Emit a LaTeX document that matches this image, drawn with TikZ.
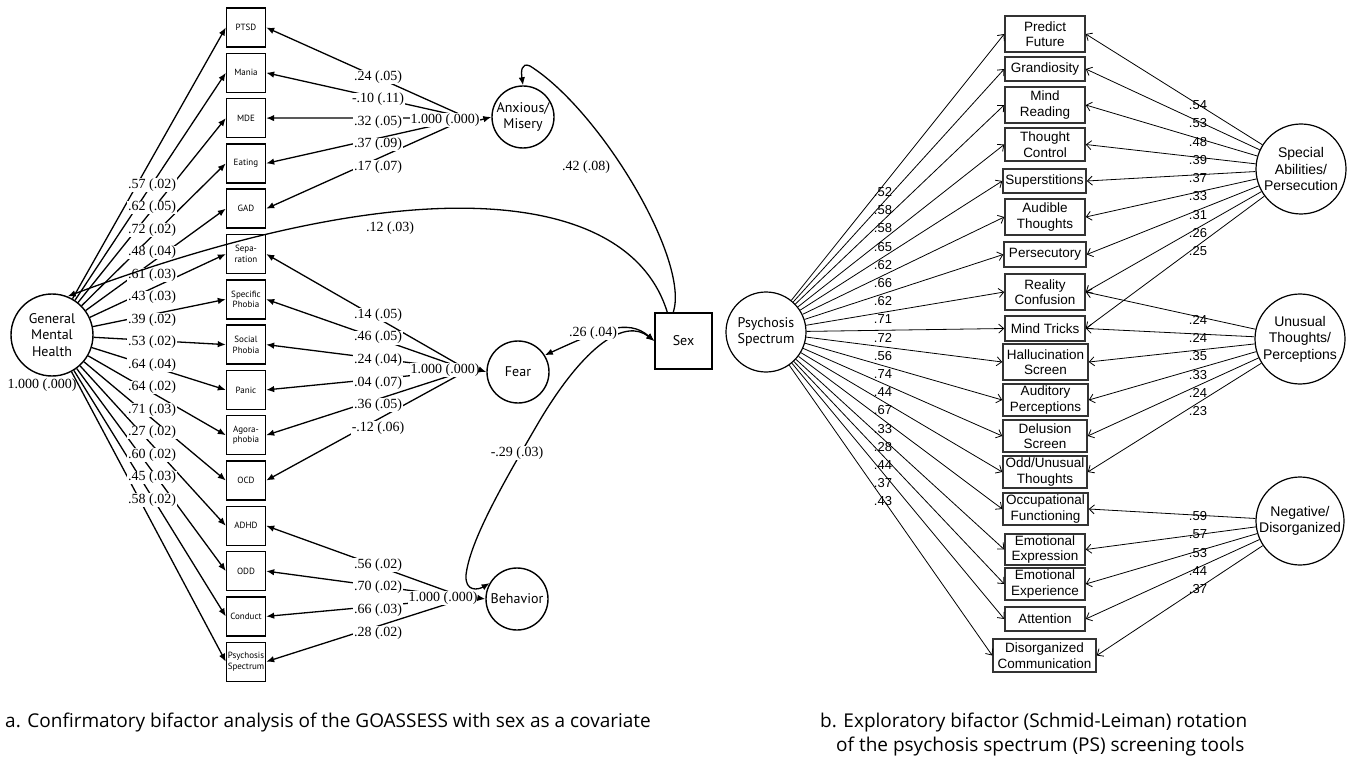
\documentclass[tikz,border=0pt]{standalone}
\usepackage{fontspec}
\setmainfont{Liberation Serif}
\newfontfamily\pts{PT Sans}
\newfontfamily\ars{Liberation Sans}
\newfontfamily\capf{Open Sans}
\usetikzlibrary{arrows.meta}
\tikzset{
 lbox/.style={draw, line width=1.4pt, minimum width=39pt, minimum height=39pt, inner sep=0pt, align=center, font=\pts\fontsize{9}{10.8}\selectfont},
 lfac/.style={draw, circle, line width=1.4pt, inner sep=0pt, align=center, font=\pts\fontsize{14}{16.5}\selectfont},
 lnum/.style={font=\fontsize{14}{16}\selectfont, fill=white, inner sep=0.6pt},
 lnumclear/.style={font=\fontsize{14}{16}\selectfont, inner sep=0.6pt},
 larr/.style={line width=1.3pt, -{Latex[length=8pt,width=6.5pt]}},
 lcurve/.style={line width=1.3pt},
 rbox/.style={draw=black!80, line width=1.5pt, inner sep=0pt, align=center, font=\ars\fontsize{13.5}{15.5}\selectfont},
 rfac/.style={draw, circle, line width=1.2pt, inner sep=0pt, align=center, font=\ars\fontsize{14}{16.5}\selectfont},
 psfac/.style={draw, circle, line width=1.2pt, inner sep=0pt, align=center, font=\pts\fontsize{14}{16.5}\selectfont},
 rnum/.style={font=\ars\fontsize{13}{15}\selectfont, inner sep=0pt},
 rarr/.style={line width=0.8pt, -{Straight Barb[length=5pt,width=9pt]}},
 capstyle/.style={font=\capf\fontsize{19}{24}\selectfont, inner sep=0pt}
}
\begin{document}
\begin{tikzpicture}[x=1pt,y=-1pt]
\useasboundingbox (0,0) rectangle (1355,762);

% ---------------- Panel a ----------------
\node[lbox] (L1) at (246,27.5) {PTSD};
\node[lbox] (L2) at (246,72.8) {Mania};
\node[lbox] (L3) at (246,118.1) {MDE};
\node[lbox] (L4) at (246,163.4) {Eating};
\node[lbox] (L5) at (246,208.7) {GAD};
\node[lbox] (L6) at (246,254.0) {Sepa-\\ration};
\node[lbox] (L7) at (246,299.3) {Specific\\Phobia};
\node[lbox] (L8) at (246,344.6) {Social\\Phobia};
\node[lbox] (L9) at (246,389.9) {Panic};
\node[lbox] (L10) at (246,435.2) {Agora-\\phobia};
\node[lbox] (L11) at (246,480.5) {OCD};
\node[lbox] (L12) at (246,525.8) {ADHD};
\node[lbox] (L13) at (246,571.1) {ODD};
\node[lbox] (L14) at (246,616.4) {Conduct};
\node[lbox] (L15) at (246,661.7) {Psychosis\\Spectrum};

\node[lfac, minimum size=82pt] (gmh) at (52,335) {General\\Mental\\Health};
\node[lnumclear] (gvar) at (42,385) {1.000 (.000)};
\node[lfac, minimum size=62pt] (anx) at (523,117) {Anxious/\\Misery};
\node[lfac, minimum size=62pt] (fear) at (518,372) {Fear};
\node[lfac, minimum size=62pt] (beh) at (517,599) {Behavior};
\node[draw, line width=1.4pt, minimum width=57pt, minimum height=56pt, inner sep=0pt, font=\pts\fontsize{14}{16}\selectfont] (sex) at (683.5,341) {Sex};

\coordinate (ac) at (468,118);
\coordinate (fc) at (468,370);
\coordinate (bc) at (466,598);

% general loadings
\foreach \i in {1,...,15} \draw[larr] (gmh) -- (L\i.west);
\foreach \v [count=\i] in {.57 (.02),.62 (.05),.72 (.02),.48 (.04),.61 (.03),.43 (.03),.39 (.02),.53 (.02),.64 (.04),.64 (.02),.71 (.03),.27 (.02),.60 (.02),.45 (.03),.58 (.02)}
  \node[lnum] (g\i) at (152,{185+22.5*(\i-1)}) {\v};

% specific loadings
\foreach \i in {1,...,5} \draw[larr] (ac) -- (L\i.east);
\foreach \i in {6,...,11} \draw[larr] (fc) -- (L\i.east);
\foreach \i in {12,...,15} \draw[larr] (bc) -- (L\i.east);

\foreach \v [count=\i] in {.24 (.05),-.10 (.11),.32 (.05),.37 (.09),.17 (.07)}
  \node[lnum] (a\i) at (378,{77+22.5*(\i-1)}) {\v};
\foreach \v [count=\i] in {.14 (.05),.46 (.05),.24 (.04),.04 (.07),.36 (.05),-.12 (.06)}
  \node[lnum] (f\i) at (378,{315+22.6*(\i-1)}) {\v};
\foreach \v [count=\i] in {.56 (.02),.70 (.02),.66 (.03),.28 (.02)}
  \node[lnum] (b\i) at (378,{565+22.6*(\i-1)}) {\v};

\node[lnum] (a0) at (445,120) {1.000 (.000)};
\node[lnum] (f0) at (445,370) {1.000 (.000)};
\node[lnum] (b0) at (443,598) {1.000 (.000)};
\draw[larr] (a0.east) -- (anx.west);
\draw[larr] (f0.east) -- (fear.west);
\draw[larr] (b0.east) -- (beh.west);

% sex paths
\draw[larr] (sex.north west) ++(13,0) .. controls (630,190) and (420,165) .. (gmh.68);
\node[lnumclear] (s12) at (390,228) {.12 (.03)};
\draw[larr] (sex.north west) ++(19,0) .. controls (690,260) and (600,110) .. (530,66) .. controls (521,62) and (521,72) .. (anx.north);
\node[lnumclear] (s42) at (586,167) {.42 (.08)};
\draw[lcurve, {Latex[length=8pt,width=6.5pt]}-{Latex[length=8pt,width=6.5pt]}] (fear.32) .. controls (600,330) and (628,318) .. (sex.west);
\draw[lcurve, {Latex[length=8pt,width=6.5pt]}-{Latex[length=8pt,width=6.5pt]}] (beh.150) .. controls (478,590) and (465,592) .. (466,575) .. controls (470,540) and (505,480) .. (540,420) .. controls (585,345) and (625,318) .. (sex.west);
\node[lnum] (s26) at (593,333) {.26 (.04)};
\node[lnum] (s29) at (517,453) {-.29 (.03)};

% ---------------- Panel b ----------------
\node[rbox, minimum width=80pt, minimum height=36pt] (R1) at (1045,34) {Predict\\Future};
\node[rbox, minimum width=80pt, minimum height=24pt] (R2) at (1045,69) {Grandiosity};
\node[rbox, minimum width=80pt, minimum height=36pt] (R3) at (1045,105) {Mind\\Reading};
\node[rbox, minimum width=80pt, minimum height=33pt] (R4) at (1045,144.5) {Thought\\Control};
\node[rbox, minimum width=83pt, minimum height=24pt] (R5) at (1044.5,181) {Superstitions};
\node[rbox, minimum width=80pt, minimum height=36pt] (R6) at (1045,217) {Audible\\Thoughts};
\node[rbox, minimum width=82pt, minimum height=25pt] (R7) at (1045,254.5) {Persecutory};
\node[rbox, minimum width=80pt, minimum height=36pt] (R8) at (1045,292) {Reality\\Confusion};
\node[rbox, minimum width=80pt, minimum height=25pt] (R9) at (1045,328.5) {Mind Tricks};
\node[rbox, minimum width=85pt, minimum height=36pt] (R10) at (1045.5,362) {Hallucination\\Screen};
\node[rbox, minimum width=85pt, minimum height=32pt] (R11) at (1045.5,400) {Auditory\\Perceptions};
\node[rbox, minimum width=84pt, minimum height=32pt] (R12) at (1045,436) {Delusion\\Screen};
\node[rbox, minimum width=84pt, minimum height=32pt] (R13) at (1045,472) {Odd/Unusual\\Thoughts};
\node[rbox, minimum width=85pt, minimum height=32pt] (R14) at (1045.5,509) {Occupational\\Functioning};
\node[rbox, minimum width=80pt, minimum height=31pt] (R15) at (1045,549.5) {Emotional\\Expression};
\node[rbox, minimum width=80pt, minimum height=32pt] (R16) at (1045,584) {Emotional\\Experience};
\node[rbox, minimum width=80pt, minimum height=24pt] (R17) at (1045,619) {Attention};
\node[rbox, minimum width=103pt, minimum height=33pt] (R18) at (1044.5,655.5) {Disorganized\\Communication};

\node[psfac, minimum size=80pt] (ps) at (766,332) {Psychosis\\Spectrum};
\node[rfac, minimum size=90pt] (spa) at (1301,169) {Special\\Abilities/\\Persecution};
\node[rfac, minimum size=90pt] (utp) at (1300,339) {Unusual\\Thoughts/\\Perceptions};
\node[rfac, minimum size=88pt] (nd) at (1300,521) {Negative/\\Disorganized};

\foreach \i in {1,...,18} \draw[rarr] (ps) -- (R\i.west);
\foreach \i in {1,...,9} \draw[rarr] (spa) -- (R\i.east);
\foreach \i in {8,...,13} \draw[rarr] (utp) -- (R\i.east);
\foreach \i in {14,...,18} \draw[rarr] (nd) -- (R\i.east);

\foreach \v [count=\i] in {.52,.58,.58,.65,.62,.66,.62,.71,.72,.56,.74,.44,.67,.33,.28,.44,.37,.43}
  \node[rnum] (p\i) at (883,{192+18.2*(\i-1)}) {\v};
\foreach \v [count=\i] in {.54,.53,.48,.39,.37,.33,.31,.26,.25}
  \node[rnum] (sp\i) at (1198,{105+18.3*(\i-1)}) {\v};
\foreach \v [count=\i] in {.24,.24,.35,.33,.24,.23}
  \node[rnum] (ut\i) at (1198,{320+18.2*(\i-1)}) {\v};
\foreach \v [count=\i] in {.59,.57,.53,.44,.37}
  \node[rnum] (nd\i) at (1198,{516+18.3*(\i-1)}) {\v};

% captions
\node[capstyle, anchor=base west] (capa) at (5,727) {a. Confirmatory bifactor analysis of the GOASSESS with sex as a covariate};
\node[capstyle, anchor=base west] (capb1) at (820,727) {b. Exploratory bifactor (Schmid-Leiman) rotation};
\node[capstyle, anchor=base west] (capb2) at (836,751) {of the psychosis spectrum (PS) screening tools};
\end{tikzpicture}
\end{document}
